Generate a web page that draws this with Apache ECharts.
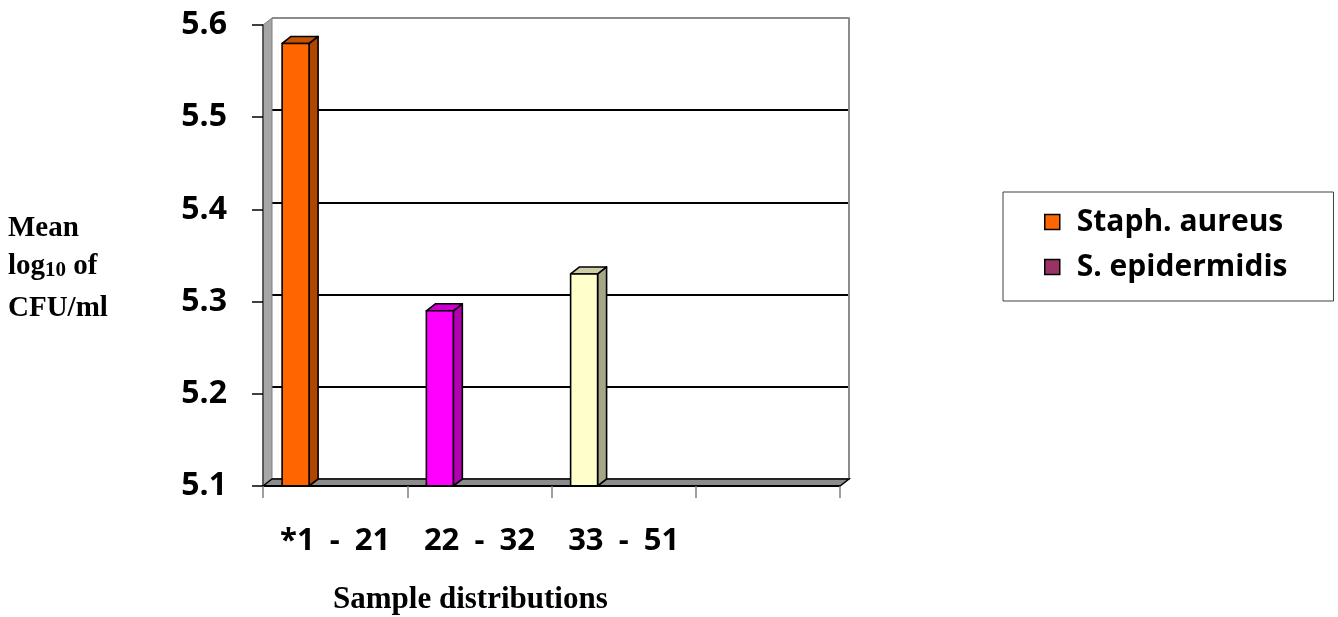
<!DOCTYPE html>
<html>
<head>
<meta charset="utf-8">
<script src="https://cdn.jsdelivr.net/npm/echarts@6/dist/echarts.min.js"></script>
<style>
  html, body { margin: 0; padding: 0; background: #fff; }
  #chart { width: 1338px; height: 617px; }
</style>
</head>
<body>
<div id="chart"></div>
<script>
// ---- data ----
const categories = ['*1 - 21', '22 - 32', '33 - 51', ''];
const staphValues = [5.58, 5.29, 5.33, null];
const epidermidisValues = [null, null, null, null];
const seriesNames = ['Staph. aureus', 'S. epidermidis'];
const yMin = 5.1;
const yMax = 5.6;
const yInterval = 0.1;

// ---- styles ----
const frontColors = ['#FF6600', '#FF00FF', '#FFFFCC'];
const sideColors = ['#B04600', '#B000B0', '#A6A689'];
const topColors = ['#C85200', '#CC00CC', '#CDCDA6'];
const legendColors = ['#FF6600', '#993366'];
const DX = 9, DY = -7;          // 3D depth offset
const BAR_W = 0.187;            // bar width as share of a category band
const BAR_OFF = -0.274;         // bar centre offset as share of band

const chart = echarts.init(document.getElementById('chart'), null, { renderer: 'canvas' });

const gridFront = { left: 263, right: 498, top: 25, bottom: 131 };
const gridBack = {
  left: gridFront.left + DX, right: gridFront.right - DX,
  top: gridFront.top + DY, bottom: gridFront.bottom - DY
};

function frameItem(params, api) {
  const cs = params.coordSys;
  const x = cs.x, y = cs.y, xr = cs.x + cs.width, yb = cs.y + cs.height;
  return {
    type: 'group',
    children: [
      { type: 'polygon', shape: { points: [[x, y], [x + DX, y + DY], [x + DX, yb + DY], [x, yb]] },
        style: { fill: '#A6A6A6', stroke: '#7F7F7F', lineWidth: 1 } },
      { type: 'polygon', shape: { points: [[x, yb], [x + DX, yb + DY], [xr + DX, yb + DY], [xr, yb]] },
        style: { fill: '#8C8C8C', stroke: '#000', lineWidth: 1.5 } }
    ]
  };
}

function barItem(params, api) {
  const i = params.dataIndex;
  const cat = api.value(0);
  const v = api.value(1);
  const top = api.coord([cat, v]);
  const base = api.coord([cat, yMin]);
  const band = api.size([1, 0])[0];
  const w = band * BAR_W;
  const cx = top[0] + band * BAR_OFF;
  const x0 = cx - w / 2, x1 = cx + w / 2, yt = top[1], yb = base[1];
  const stroke = { stroke: '#000', lineWidth: 1.6, lineJoin: 'round' };
  return {
    type: 'group',
    children: [
      { type: 'polygon', shape: { points: [[x1, yt], [x1 + DX, yt + DY], [x1 + DX, yb + DY], [x1, yb]] },
        style: Object.assign({ fill: sideColors[i] }, stroke) },
      { type: 'polygon', shape: { points: [[x0, yt], [x0 + DX, yt + DY], [x1 + DX, yt + DY], [x1, yt]] },
        style: Object.assign({ fill: topColors[i] }, stroke) },
      { type: 'rect', shape: { x: x0, y: yt, width: w, height: yb - yt },
        style: Object.assign({ fill: frontColors[i] }, stroke) }
    ]
  };
}

const sansBold = { fontFamily: 'Open Sans', fontWeight: 'bold', color: '#000' };
const serif = 'Liberation Serif';

const option = {
  animation: false,
  backgroundColor: '#fff',
  grid: [
    Object.assign({}, gridFront),
    Object.assign({}, gridBack)
  ],
  xAxis: [
    {
      type: 'category', gridIndex: 0, data: categories, boundaryGap: true,
      axisLine: { show: true, lineStyle: { color: '#000', width: 2 } },
      axisTick: { show: true, length: 12, lineStyle: { color: '#808080', width: 1.5 } },
      axisLabel: Object.assign({
        margin: 39, lineHeight: 32, fontSize: 31, interval: 0,
        formatter: v => v.split(' - ').join('{g| - }'),
        rich: { g: Object.assign({ fontSize: 31, lineHeight: 32, padding: [0, 7, 0, 7] }, sansBold) }
      }, sansBold),
      splitLine: { show: false }, z: 5
    },
    {
      type: 'category', gridIndex: 1, data: categories, show: false
    }
  ],
  yAxis: [
    {
      type: 'value', gridIndex: 0, min: yMin, max: yMax, interval: yInterval,
      axisLine: { show: true, lineStyle: { color: '#404040', width: 1.5 } },
      axisTick: { show: true, length: 11, lineStyle: { color: '#000', width: 1.5 } },
      axisLabel: Object.assign({ margin: 36, fontSize: 32, formatter: v => v.toFixed(1) }, sansBold),
      splitLine: { show: false }, z: 5
    },
    {
      type: 'value', gridIndex: 1, min: yMin, max: yMax, interval: yInterval, position: 'right',
      axisLine: { show: true, lineStyle: { color: '#8C8C8C', width: 2 } },
      axisTick: { show: false }, axisLabel: { show: false },
      splitLine: { show: true, lineStyle: { color: ['#8C8C8C', '#000', '#000', '#000', '#000', '#8C8C8C'], width: 2 } }
    }
  ],
  legend: {
    orient: 'vertical', left: 1003, top: 192,
    data: seriesNames,
    icon: 'rect', itemWidth: 15, itemHeight: 15, itemGap: 9,
    padding: [12, 46, 16, 41],
    borderColor: '#404040', borderWidth: 1,
    selectedMode: false,
    textStyle: Object.assign({ fontSize: 30, lineHeight: 36, padding: [0, 0, 0, 12] }, sansBold),
    itemStyle: { borderColor: '#000', borderWidth: 1.5 }
  },
  graphic: [
    { type: 'text', left: 8, top: 214, style: { text: 'Mean', font: 'bold 29px "' + serif + '"', fill: '#000' } },
    { type: 'text', left: 8, top: 252, style: {
        text: '{a|log}{s|10}{a| of}', fill: '#000',
        rich: {
          a: { fontFamily: serif, fontWeight: 'bold', fontSize: 29, lineHeight: 35, verticalAlign: 'bottom' },
          s: { fontFamily: serif, fontWeight: 'bold', fontSize: 21, lineHeight: 23, verticalAlign: 'bottom' }
        } } },
    { type: 'text', left: 8, top: 294, style: { text: 'CFU/ml', font: 'bold 29px "' + serif + '"', fill: '#000' } },
    { type: 'text', left: 333, top: 584, style: { text: 'Sample distributions', font: 'bold 31px "' + serif + '"', fill: '#000' } }
  ],
  series: [
    {
      name: 'frame', type: 'custom', xAxisIndex: 0, yAxisIndex: 0, z: 1,
      data: [[0, yMin]], renderItem: frameItem, silent: true
    },
    {
      name: seriesNames[0], type: 'custom', xAxisIndex: 0, yAxisIndex: 0, z: 3,
      itemStyle: { color: legendColors[0] },
      data: staphValues.map((v, i) => [i, v]).filter(d => d[1] != null),
      renderItem: barItem
    },
    {
      name: seriesNames[1], type: 'bar', xAxisIndex: 0, yAxisIndex: 0,
      itemStyle: { color: legendColors[1] },
      data: epidermidisValues
    }
  ]
};
chart.setOption(option);
</script>
</body>
</html>
